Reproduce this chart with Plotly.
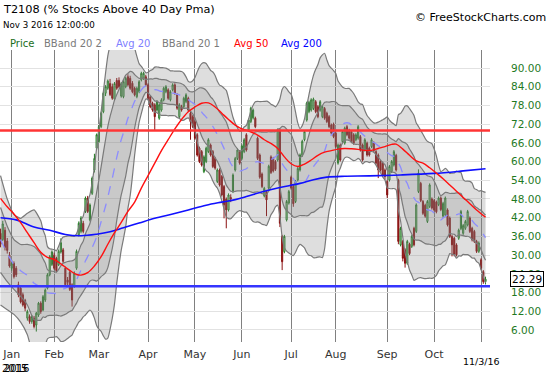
import numpy as np
import pandas as pd
import plotly.graph_objects as go

# ---------------- trading days (Dec 24 2015 .. Nov 3 2016) ----------------
holidays = ["2015-12-25", "2016-01-01", "2016-01-18", "2016-02-15", "2016-03-25",
            "2016-05-30", "2016-07-04", "2016-09-05"]
dates = pd.bdate_range("2015-12-24", "2016-11-03")
dates = dates[~dates.isin(pd.to_datetime(holidays))]
pos = list(range(-5, len(dates) - 5))          # 0 = Jan 4 2016

# ---------------- OHLC ----------------
open_ = [
    37.0, 35.0, 38.0, 34.5, 30.0,
    25.8, 27.4, 25.8, 20.5, 19.4, 17.3, 15.5, 9.8, 10.3, 8.7, 9.8, 7.6, 10.8, 14.6, 12.4, 15.6, 19.4, 23.7, 27.0,
    30.0, 29.0, 26.9, 31.0, 31.7, 25.8, 22.0, 24.5, 20.5, 20.0, 25.8, 36.5, 37.6, 40.2, 44.0, 48.3, 41.3, 49.8, 57.3, 64.3,
    66.4, 71.2, 76.0, 81.9, 83.5, 85.0, 84.0, 80.0, 86.0, 86.0, 81.0, 80.8, 84.0, 87.2, 86.7, 85.1, 83.5, 80.8, 82.4, 86.2, 86.7, 87.2,
    84.6, 80.8, 78.7, 78.2, 76.5, 73.9, 76.5, 79.8, 82.4, 83.0, 79.8, 83.0, 84.6, 81.4, 74.4, 77.6, 77.6, 79.2, 80.3, 75.5, 74.4,
    72.8, 68.6, 64.3, 63.2, 56.8, 60.0, 63.2, 65.3, 63.2, 61.0, 53.6, 57.3, 55.2, 52.0, 48.0, 44.5, 48.5, 50.4, 57.3, 61.0, 63.2,
    61.0, 63.2, 68.6, 70.2, 72.8, 74.0, 73.9, 67.5, 62.1, 56.0, 49.0, 50.4, 51.5, 61.5, 61.0, 60.0, 60.5, 70.0, 36.0, 31.1, 41.3, 46.7,
    55.0, 52.0, 47.2, 54.1, 57.3, 62.0, 67.0, 73.3, 76.0, 76.5, 77.0, 79.2, 77.6, 76.5, 74.4, 77.0, 75.5, 74.4, 71.7, 72.0,
    69.1, 59.5, 65.3, 66.4, 65.9, 71.2, 70.0, 69.6, 68.6, 67.0, 67.5, 68.0, 65.3, 63.7, 65.9, 64.3, 64.8, 66.0, 63.2, 62.1, 60.0, 59.5, 57.3,
    53.6, 54.1, 56.8, 58.9, 62.0, 54.0, 33.3, 34.4, 31.7, 27.4, 33.5, 32.8, 38.6, 37.6, 50.4, 53.0, 47.2, 46.0, 40.8, 45.6, 48.0,
    47.5, 47.0, 46.2, 48.3, 42.5, 42.9, 44.5, 41.9, 36.0, 35.4, 33.3, 35.4, 38.5, 37.0, 38.6, 39.7, 41.9, 38.6, 37.6, 34.4, 31.2,
    28.5, 24.7, 21.5,
]
high = [
    38.5, 41.0, 39.0, 35.5, 31.0,
    28.5, 28.0, 26.5, 21.5, 20.0, 18.0, 16.0, 12.5, 11.0, 10.8, 10.5, 11.8, 15.0, 15.2, 17.2, 19.3, 24.2, 30.0, 31.5,
    30.8, 29.5, 31.8, 35.4, 32.3, 26.3, 23.0, 25.0, 21.0, 24.8, 31.8, 40.8, 42.5, 41.0, 48.8, 49.0, 46.6, 55.2, 62.5, 69.0,
    71.7, 76.0, 82.4, 84.5, 86.3, 86.5, 85.0, 85.5, 86.8, 87.0, 85.5, 86.1, 87.2, 88.0, 87.5, 85.8, 84.0, 84.0, 86.1, 88.8, 88.8, 87.8,
    85.1, 81.3, 79.2, 78.7, 79.7, 78.7, 80.3, 84.0, 84.5, 83.5, 82.9, 85.1, 85.1, 81.9, 78.7, 78.2, 80.8, 81.9, 80.8, 76.0, 74.9,
    73.3, 69.1, 64.8, 63.7, 62.0, 64.8, 67.5, 65.8, 63.7, 61.5, 57.8, 57.8, 55.7, 52.5, 48.5, 49.8, 49.5, 56.2, 61.5, 64.2, 63.7,
    65.5, 67.5, 69.1, 73.8, 77.6, 77.0, 74.4, 68.0, 62.6, 56.5, 51.9, 50.9, 59.0, 62.0, 61.5, 60.5, 70.6, 70.5, 36.5, 36.5, 47.7, 50.9,
    55.5, 52.5, 54.1, 58.3, 62.6, 67.0, 70.1, 79.2, 79.5, 80.3, 80.5, 79.7, 78.1, 79.7, 78.1, 77.5, 76.0, 74.9, 72.2, 72.5,
    69.6, 65.8, 65.8, 70.1, 71.2, 71.7, 70.5, 70.1, 69.1, 69.1, 71.7, 68.5, 65.8, 67.5, 66.4, 64.8, 67.5, 66.5, 63.7, 62.6, 60.5, 60.0, 57.8,
    54.1, 58.9, 60.5, 63.7, 62.5, 54.5, 39.1, 34.9, 32.2, 34.9, 34.0, 36.5, 39.1, 46.6, 57.5, 53.5, 47.7, 46.5, 47.7, 53.0, 48.5,
    48.0, 47.5, 48.8, 48.8, 47.1, 48.8, 45.0, 42.4, 36.5, 35.9, 33.8, 38.5, 44.5, 40.0, 41.3, 44.5, 42.4, 39.1, 38.1, 34.9, 34.4,
    29.0, 25.2, 23.1,
]
low = [
    32.5, 34.5, 31.5, 30.5, 26.0,
    25.0, 22.5, 23.0, 16.5, 14.5, 13.5, 12.0, 9.0, 8.0, 8.0, 6.5, 5.5, 10.2, 11.2, 12.0, 15.0, 19.0, 23.2, 26.5,
    25.3, 24.5, 26.5, 30.5, 27.5, 20.0, 20.0, 18.5, 13.5, 19.5, 25.3, 36.0, 37.0, 37.0, 43.5, 43.5, 40.8, 49.3, 56.5, 63.8,
    66.0, 70.7, 75.5, 81.0, 83.0, 81.0, 79.8, 79.5, 83.0, 83.5, 80.5, 80.3, 83.5, 84.1, 83.0, 81.9, 80.9, 80.3, 81.9, 85.7, 86.2, 84.1,
    79.8, 77.1, 76.0, 70.0, 76.0, 73.4, 76.0, 79.3, 81.9, 79.8, 79.3, 82.5, 81.4, 76.6, 73.9, 76.0, 77.1, 78.7, 76.0, 67.0, 70.7,
    67.0, 61.6, 59.5, 58.4, 56.3, 59.5, 62.7, 61.6, 57.9, 57.4, 53.1, 52.0, 48.8, 41.8, 38.6, 44.0, 47.0, 49.9, 56.8, 60.5, 59.0,
    60.5, 62.7, 63.2, 69.7, 72.3, 73.5, 70.7, 60.5, 54.5, 51.5, 48.5, 42.5, 51.0, 56.0, 56.5, 57.0, 60.0, 39.0, 25.2, 30.6, 40.8, 46.2,
    51.0, 45.5, 46.7, 53.6, 56.8, 61.5, 66.5, 72.8, 75.5, 76.0, 76.5, 75.5, 73.9, 76.0, 73.9, 73.4, 72.3, 70.7, 68.6, 67.5,
    64.3, 59.0, 60.0, 65.9, 65.4, 68.1, 67.0, 65.9, 65.4, 66.5, 67.0, 63.2, 60.0, 63.2, 61.6, 61.6, 64.3, 63.0, 59.0, 54.7, 56.8, 55.2, 54.2,
    48.3, 53.6, 56.3, 58.4, 56.8, 33.5, 32.8, 28.0, 26.0, 26.9, 30.0, 32.3, 32.8, 37.1, 49.9, 47.0, 42.9, 42.0, 40.3, 45.1, 44.6,
    44.0, 43.4, 45.7, 44.1, 42.0, 42.4, 39.2, 35.5, 29.6, 29.6, 29.6, 34.9, 38.0, 36.5, 38.1, 39.2, 37.1, 34.4, 33.9, 30.7, 30.7,
    25.3, 20.8, 20.6,
]
close = [
    33.5, 40.0, 32.5, 31.5, 26.5,
    27.4, 23.1, 23.7, 17.3, 15.0, 14.0, 13.0, 11.9, 8.7, 10.3, 7.1, 11.4, 14.6, 11.9, 16.7, 18.8, 23.7, 29.5, 31.0,
    25.8, 25.0, 31.2, 34.0, 28.0, 20.5, 21.3, 19.0, 15.6, 24.2, 31.2, 40.2, 41.9, 37.6, 48.3, 44.0, 46.1, 54.7, 61.0, 68.6,
    71.2, 75.5, 81.9, 84.0, 85.8, 81.5, 80.3, 85.0, 83.5, 84.0, 85.0, 85.6, 86.7, 84.6, 83.5, 82.4, 81.4, 83.5, 85.6, 88.3, 88.3, 84.6,
    80.3, 77.6, 76.5, 74.4, 79.2, 78.2, 79.8, 83.5, 84.0, 80.3, 82.4, 84.6, 81.9, 77.1, 78.2, 76.5, 80.3, 81.4, 76.5, 72.8, 71.2,
    67.5, 62.1, 60.0, 58.9, 61.5, 64.3, 67.0, 62.1, 58.4, 57.9, 57.3, 52.5, 49.3, 46.1, 44.5, 49.3, 48.0, 55.7, 61.0, 63.7, 59.5,
    65.0, 67.0, 63.7, 73.3, 77.1, 76.5, 71.2, 61.0, 55.0, 52.0, 51.4, 47.7, 58.5, 56.5, 57.0, 57.5, 70.1, 40.2, 27.9, 36.0, 47.2, 50.4,
    51.5, 46.5, 53.6, 57.8, 62.1, 66.5, 69.6, 78.7, 79.0, 79.8, 80.0, 76.0, 74.4, 79.2, 77.6, 73.9, 72.8, 71.2, 69.1, 68.0,
    64.8, 65.3, 60.5, 69.6, 70.7, 68.6, 67.5, 66.4, 65.9, 68.6, 71.2, 63.7, 60.5, 67.0, 62.1, 62.1, 67.0, 63.5, 59.5, 57.3, 57.3, 55.7, 55.2,
    49.3, 58.4, 60.0, 63.2, 57.3, 34.4, 38.6, 29.0, 27.4, 34.4, 30.5, 36.0, 33.3, 46.1, 56.3, 47.5, 43.4, 42.5, 47.2, 52.5, 45.1,
    44.5, 43.9, 48.3, 44.6, 46.6, 48.3, 39.7, 36.0, 33.3, 30.1, 30.1, 38.0, 44.0, 39.5, 40.8, 44.0, 37.6, 34.9, 34.4, 31.2, 33.9,
    25.8, 21.5, 22.29,
]
assert len(open_) == len(high) == len(low) == len(close) == len(pos) == 218

# ---------------- Bollinger (20) values read for the first days on screen ----------------
bb_early_pos = [-5, -2, 1, 4, 7, 10, 13]
bb_early_mid = [35.0, 30.5, 27.0, 25.0, 23.5, 21.0, 19.8]
bb_early_up2 = [55.5, 48.0, 43.0, 41.8, 43.4, 44.5, 41.0]
bb_early_lo2 = [14.0, 12.5, 11.0, 8.5, 4.5, -2.5, -1.5]

# ---------------- moving averages ----------------
avg50_pos = [-5, -2, 1, 4, 7, 10, 13, 16, 19, 22, 25, 27, 29, 31, 34, 37, 40, 43, 46, 49, 52, 55,
             58, 61, 64, 67, 70, 73, 76, 79, 82, 85, 88, 91, 94, 97, 100, 103, 106, 110, 113, 116,
             119, 122, 125, 128, 131, 134, 137, 140, 143, 146, 149, 152, 155, 158, 161, 164, 167,
             170, 172, 175, 178, 181, 184, 187, 190, 193, 196, 199, 202, 205, 208, 212]
avg50_val = [48.2, 45.5, 43.2, 40.4, 37.2, 34.0, 30.9, 29.3, 28.6, 27.2, 25.6, 24.6, 23.8, 23.6, 24.4,
             26.5, 29.5, 33.5, 37.2, 40.5, 44.0, 47.0, 51.5, 55.5, 59.5, 63.5, 67.0, 70.5, 73.5, 76.0,
             77.5, 78.7, 78.8, 77.5, 75.5, 73.5, 71.7, 70.5, 69.8, 68.5, 67.0, 65.8, 64.2, 61.5, 59.3,
             58.4, 59.2, 60.5, 62.0, 63.0, 63.5, 64.0, 64.2, 64.1, 63.9, 63.6, 63.6, 64.2, 64.8, 65.5,
             65.6, 64.0, 62.0, 60.2, 59.5, 58.0, 56.3, 54.5, 52.5, 50.5, 48.5, 46.5, 44.5, 42.2]
avg200_pos = [-5, 2, 10, 17, 24, 31, 38, 44, 50, 57, 64, 72, 79, 87, 94, 100, 105, 113, 120,
              129, 135, 141, 149, 160, 174, 189, 202, 212]
avg200_val = [42.0, 41.3, 39.0, 38.0, 36.6, 36.2, 36.7, 37.5, 38.8, 40.3, 41.8, 43.2, 44.5, 46.0,
              47.0, 47.8, 48.8, 50.5, 51.7, 53.0, 54.2, 55.0, 55.3, 55.4, 55.7, 56.2, 57.0, 57.7]

level_hi = 70
level_lo = 20

month_pos = [0, 19, 39, 61, 82, 103, 125, 145, 168, 189, 210]
month_txt = ["Jan", "Feb", "Mar", "Apr", "May", "Jun", "Jul", "Aug", "Sep", "Oct", ""]
y_ticks = [6, 12, 18, 24, 30, 36, 42, 48, 54, 60, 66, 72, 78, 84, 90]
last_label = "11/3/16"

# ---------------- Bollinger from closes where the 20-day window is on screen ----------------
s = pd.Series(close, dtype=float)
mid = s.rolling(20).mean()
sd = s.rolling(20).std(ddof=0)
start = 19  # index of pos 14
bb_pos = bb_early_pos + pos[start:]
bb_mid = bb_early_mid + list(mid[start:])
bb_up2 = bb_early_up2 + list(mid[start:] + 2 * sd[start:])
bb_lo2 = bb_early_lo2 + list(mid[start:] - 2 * sd[start:])
bb_up1 = [(a + m) / 2 for a, m in zip(bb_up2, bb_mid)]
bb_lo1 = [(b + m) / 2 for b, m in zip(bb_lo2, bb_mid)]

FONT = "DejaVu Sans"
BAND_LINE = dict(color="#7a7a7a", width=1.2, shape="spline", smoothing=0.5)

fig = go.Figure()
fig.add_trace(go.Scatter(x=bb_pos, y=bb_up2, mode="lines", line=BAND_LINE, hoverinfo="skip"))
fig.add_trace(go.Scatter(x=bb_pos, y=bb_lo2, mode="lines", line=BAND_LINE, fill="tonexty",
                         fillcolor="rgba(128,128,128,0.26)", hoverinfo="skip"))
fig.add_trace(go.Scatter(x=bb_pos, y=bb_up1, mode="lines", line=BAND_LINE, hoverinfo="skip"))
fig.add_trace(go.Scatter(x=bb_pos, y=bb_lo1, mode="lines", line=BAND_LINE, fill="tonexty",
                         fillcolor="rgba(128,128,128,0.22)", hoverinfo="skip"))
fig.add_trace(go.Scatter(x=bb_pos, y=bb_mid, mode="lines", hoverinfo="skip",
                         line=dict(color="#8c8cff", width=1.3, dash="dash", shape="spline", smoothing=0.5)))
fig.add_trace(go.Scatter(x=avg200_pos, y=avg200_val, mode="lines", hoverinfo="skip",
                         line=dict(color="#1010ff", width=1.6, shape="spline")))
fig.add_trace(go.Scatter(x=avg50_pos, y=avg50_val, mode="lines", hoverinfo="skip",
                         line=dict(color="#ff1010", width=1.4, shape="spline")))
fig.add_trace(go.Candlestick(
    x=pos, open=open_, high=high, low=low, close=close, whiskerwidth=0, hoverinfo="skip",
    increasing=dict(line=dict(color="#1e7b1e", width=1), fillcolor="rgba(255,255,255,0)"),
    decreasing=dict(line=dict(color="#8b1010", width=1), fillcolor="#8b1010"),
))
fig.add_trace(go.Scatter(x=[-6, 216], y=[level_hi, level_hi], mode="lines", hoverinfo="skip",
                         line=dict(color="#ff3535", width=2.5)))
fig.add_trace(go.Scatter(x=[-6, 216], y=[level_lo, level_lo], mode="lines", hoverinfo="skip",
                         line=dict(color="#3535ff", width=2.5)))

W, H = 550, 375
ML, MR, MT, MB = 0, 60, 50, 33
PW, PH = W - ML - MR, H - MT - MB


def px(x):
    return (x - ML) / PW


def py(y):
    return (H - MB - y) / PH


ann = []
ann.append(dict(text="T2108 (% Stocks Above 40 Day Pma)", x=px(1), y=py(10), font=dict(size=11.3, color="#000")))
ann.append(dict(text="Nov 3 2016 12:00:00", x=px(1), y=py(25), font=dict(size=8.7, color="#000")))
ann.append(dict(text="© FreeStockCharts.com", x=px(548), y=py(17), xanchor="right",
                font=dict(size=11, color="#000")))
legend_items = [("Price", 8, "#1a6e1a"), ("BBand 20 2", 42, "#7a7a7a"), ("Avg 20", 114, "#8080ff"),
                ("BBand 20 1", 160, "#7a7a7a"), ("Avg 50", 232, "#ff0000"), ("Avg 200", 279, "#0000ff")]
for t, x0, c in legend_items:
    ann.append(dict(text=t, x=px(x0), y=py(43), font=dict(size=10, color=c)))
ann.append(dict(text="2015", x=px(0), y=py(368), font=dict(size=10, color="#000")))
ann.append(dict(text="2016", x=px(2), y=py(368), font=dict(size=10, color="#000")))
ann.append(dict(text=last_label, x=210, xref="x", y=py(361), xanchor="center",
                font=dict(size=9.5, color="#000")))
ann.append(dict(text=f"{close[-1]:.2f}", x=px(510), y=close[-1], yref="y", xanchor="left",
                bgcolor="#fff", bordercolor="#000", borderwidth=1, borderpad=1,
                font=dict(size=10.5, color="#000")))
for a in ann:
    a.setdefault("xref", "paper")
    a.setdefault("yref", "paper")
    a.setdefault("xanchor", "left")
    a.setdefault("yanchor", "middle")
    a["showarrow"] = False
    a["font"]["family"] = FONT

fig.update_layout(
    width=W, height=H, margin=dict(l=ML, r=MR, t=MT, b=MB),
    paper_bgcolor="#fff", plot_bgcolor="#fff", showlegend=False,
    font=dict(family=FONT), annotations=ann,
    xaxis=dict(range=[-5.24, 214], tickmode="array", tickvals=month_pos, ticktext=month_txt,
               showgrid=True, gridcolor="#808080", gridwidth=1, zeroline=False, showline=False,
               ticks="", tickfont=dict(size=11, color="#333"), rangeslider=dict(visible=False),
               ticklabelstandoff=4, automargin=False),
    yaxis=dict(range=[2.15, 95.77], side="right", tickmode="array", tickvals=y_ticks,
               ticktext=[f"{v:.2f}" for v in y_ticks], showgrid=True, gridcolor="#e2e2e2",
               gridwidth=1, zeroline=False, showline=False, ticks="",
               tickfont=dict(size=10.5, color="#1f7a1f"), ticklabelstandoff=20, automargin=False),
)

fig.write_html("out.html", config={"displayModeBar": False},
               post_script="document.body.style.margin='0';document.body.style.padding='0';")
